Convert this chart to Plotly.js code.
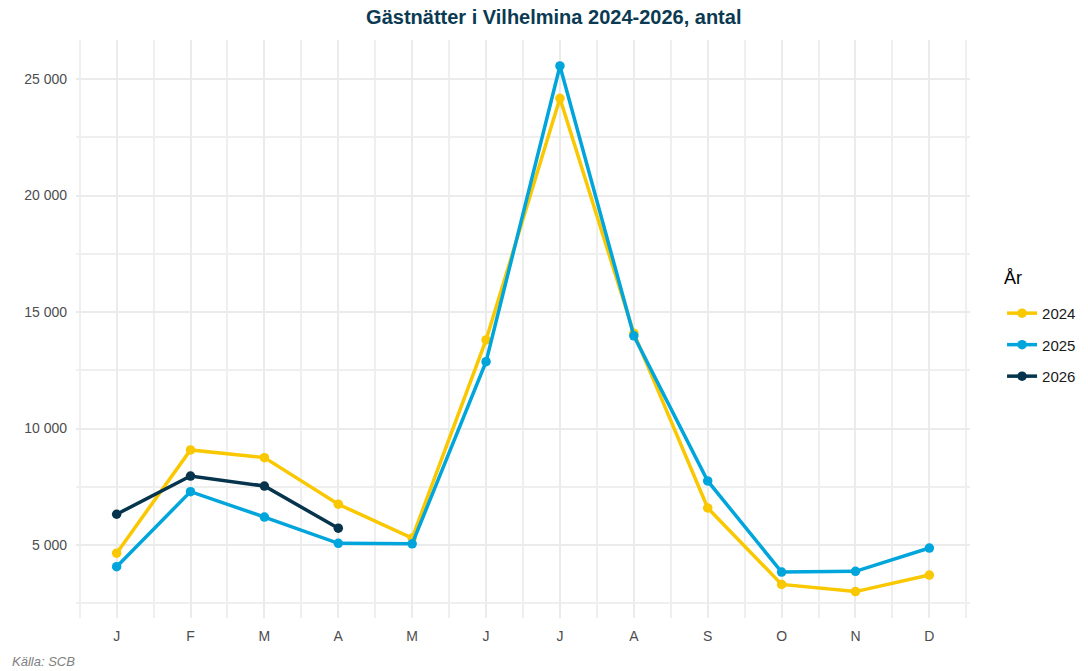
<!DOCTYPE html>
<html>
<head>
<meta charset="utf-8">
<script src="https://cdn.plot.ly/plotly-3.0.1.min.js"></script>
<style>html,body{margin:0;padding:0;background:#fff}#chart{width:1088px;height:671px}</style>
</head>
<body>
<div id="chart"></div>
<script>
const months = [1,2,3,4,5,6,7,8,9,10,11,12];
const monthLabels = ["J","F","M","A","M","J","J","A","S","O","N","D"];
const values2024 = [4650, 9080, 8750, 6750, 5300, 13800, 24170, 14090, 6590, 3310, 3000, 3710];
const values2025 = [4070, 7290, 6200, 5070, 5050, 12870, 25560, 13980, 7750, 3840, 3870, 4870];
const values2026 = [6320, 7960, 7530, 5720];
const seriesNames = ["2024", "2025", "2026"];
const seriesColors = ["#F9C800", "#00A5DB", "#06344D"];

const allY = [values2024, values2025, values2026];
const traces = allY.map((vals, i) => ({
  type: "scatter",
  mode: "lines+markers",
  name: seriesNames[i],
  legendgroup: seriesNames[i],
  x: months.slice(0, vals.length),
  y: vals,
  line: {color: seriesColors[i], width: 3.5},
  marker: {color: seriesColors[i], size: 9.5},
  hoverinfo: "skip"
}));

const minorX = months.map(m => m - 0.5).concat([12.5]);

const layout = {
  width: 1088, height: 671,
  margin: {l: 76, r: 118, t: 40, b: 53},
  paper_bgcolor: "#ffffff",
  plot_bgcolor: "#ffffff",
  separators: ", ",
  font: {family: "Liberation Sans, Arial, sans-serif", color: "#4D4D4D"},
  title: {
    text: "<b>Gästnätter i Vilhelmina 2024-2026, antal</b>",
    font: {size: 20, color: "#0B3A52", family: "Liberation Sans, Arial, sans-serif"},
    x: 0.509, xanchor: "center", xref: "container",
    y: 0.975, yanchor: "middle", yref: "container"
  },
  xaxis: {
    range: [0.45, 12.55],
    tickmode: "array",
    tickvals: months,
    ticktext: monthLabels,
    showgrid: true,
    gridcolor: "#EBEBEB",
    gridwidth: 2,
    zeroline: false,
    showline: false,
    ticks: "",
    ticklabelstandoff: 8,
    tickfont: {size: 14, color: "#4D4D4D"},
    minor: {tickmode: "array", tickvals: minorX, showgrid: true, gridcolor: "#EFEFEF", gridwidth: 2}
  },
  yaxis: {
    range: [1867, 26674],
    tickmode: "array",
    tickvals: [5000, 10000, 15000, 20000, 25000],
    tickformat: ",d",
    showgrid: true,
    gridcolor: "#EBEBEB",
    gridwidth: 2,
    zeroline: false,
    showline: false,
    ticks: "",
    ticklabelstandoff: 8,
    tickfont: {size: 14, color: "#4D4D4D"},
    minor: {tickmode: "linear", tick0: 2500, dtick: 5000, showgrid: true, gridcolor: "#EFEFEF", gridwidth: 2}
  },
  showlegend: true,
  legend: {
    xref: "container", yref: "container",
    x: 0.921, xanchor: "left",
    y: 0.486, yanchor: "middle",
    font: {size: 15, color: "#1a1a1a"},
    bgcolor: "rgba(0,0,0,0)",
    itemwidth: 30,
    tracegroupgap: 9
  },
  annotations: [{
    text: "<i>Källa: SCB</i>",
    xref: "paper", yref: "paper",
    x: -0.074, xanchor: "left",
    y: -0.075, yanchor: "middle",
    showarrow: false,
    font: {size: 13, color: "#808080"}
  }, {
    text: "År",
    xref: "paper", yref: "paper",
    x: 1.036, xanchor: "left",
    y: 0.589, yanchor: "middle",
    showarrow: false,
    font: {size: 18, color: "#000000"}
  }]
};

Plotly.newPlot("chart", traces, layout, {displayModeBar: false, staticPlot: true});
</script>
</body>
</html>
